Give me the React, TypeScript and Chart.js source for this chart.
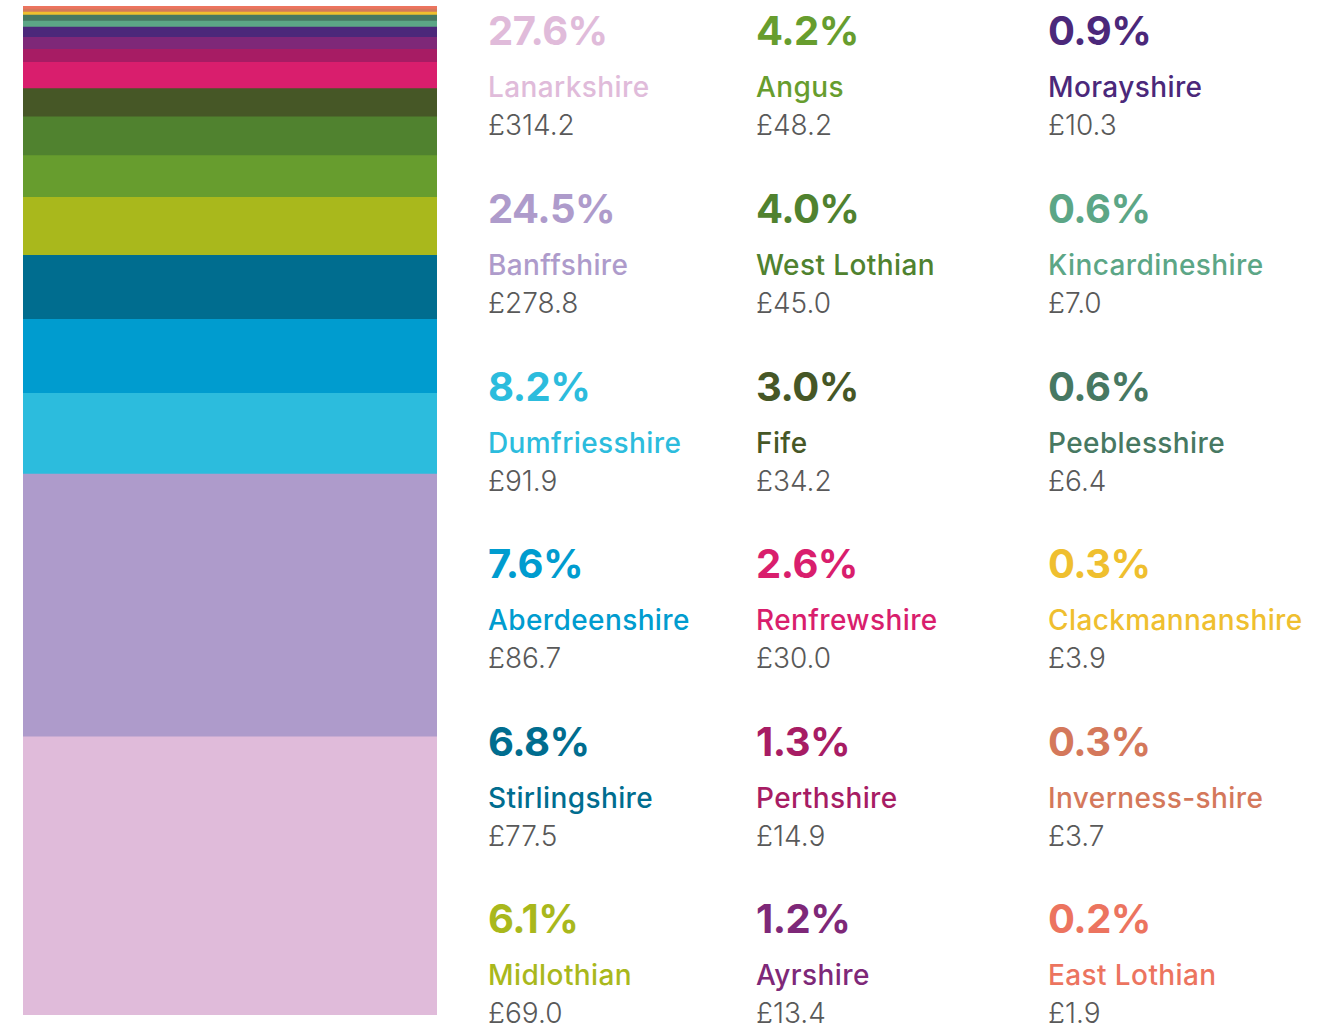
import React, { useEffect, useRef } from "react";
import { Chart, registerables } from "chart.js";

Chart.register(...registerables);

// Data (stack order: bottom to top; legend order: column-major)
const regions = [
  "Lanarkshire", "Banffshire", "Dumfriesshire", "Aberdeenshire", "Stirlingshire", "Midlothian",
  "Angus", "West Lothian", "Fife", "Renfrewshire", "Perthshire", "Ayrshire",
  "Morayshire", "Kincardineshire", "Peeblesshire", "Clackmannanshire", "Inverness-shire", "East Lothian",
];
// Amounts (£) shown in the labels
const amounts = [
  314.2, 278.8, 91.9, 86.7, 77.5, 69.0,
  48.2, 45.0, 34.2, 30.0, 14.9, 13.4,
  10.3, 7.0, 6.4, 3.9, 3.7, 1.9,
];
// Percentage labels as printed
const percentLabels = [
  "27.6%", "24.5%", "8.2%", "7.6%", "6.8%", "6.1%",
  "4.2%", "4.0%", "3.0%", "2.6%", "1.3%", "1.2%",
  "0.9%", "0.6%", "0.6%", "0.3%", "0.3%", "0.2%",
];
// Segment shares (%) as drawn in the stacked bar
const barShares = [
  27.6, 26.1, 8.0, 7.35, 6.35, 5.75,
  4.15, 3.85, 2.8, 2.6, 1.3, 1.2,
  1.0, 0.6, 0.6, 0.3, 0.3, 0.3,
];
const amountLabels = amounts.map((v) => "£" + v.toFixed(1));
const colors = [
  "#e0bbda", "#ae9bcb", "#2cbcdd", "#009ccf", "#006d8f", "#a9b81c",
  "#679d2e", "#50822f", "#465726", "#d91e6d", "#a71c64", "#7e2878",
  "#4b287a", "#5ca686", "#477862", "#efbf2f", "#d4785b", "#ec745f",
];

const FONT = "Inter, 'Open Sans', 'Noto Sans', sans-serif";
const COL_X = [488, 756, 1048];
const ROW_PITCH = 177.6;
const PCT_BASE = 46;

export default function App() {
  const canvasRef = useRef<HTMLCanvasElement | null>(null);

  useEffect(() => {
    if (!canvasRef.current) return;
    const total = barShares.reduce((a, b) => a + b, 0);
    const chart = new Chart(canvasRef.current, {
      type: "bar",
      data: {
        labels: ["Total"],
        datasets: regions.map((r, i) => ({
          label: r,
          data: [barShares[i]],
          backgroundColor: colors[i],
          borderWidth: 0,
          barPercentage: 1,
          categoryPercentage: 1,
          stack: "s",
        })),
      },
      options: {
        animation: false,
        responsive: true,
        maintainAspectRatio: false,
        layout: { padding: 0 },
        plugins: { legend: { display: false }, tooltip: { enabled: false } },
        scales: {
          x: { stacked: true, display: false },
          y: { stacked: true, display: false, min: 0, max: total },
        },
      },
    });
    return () => chart.destroy();
  }, []);

  return (
    <div style={{ position: "absolute", left: 0, top: 0, width: 1340, height: 1030, background: "#fff", fontFamily: FONT }}>
      <div style={{ position: "absolute", left: 23, top: 6, width: 414, height: 1009 }}>
        <canvas ref={canvasRef} />
      </div>
      {regions.map((r, i) => {
        const col = Math.floor(i / 6);
        const row = i % 6;
        const pb = PCT_BASE + ROW_PITCH * row;
        const x = COL_X[col];
        return (
          <React.Fragment key={r}>
            <div style={{ position: "absolute", left: x, top: pb - 0.864 * 40, fontSize: 40, lineHeight: 1, fontWeight: 700, color: colors[i], whiteSpace: "nowrap", letterSpacing: -0.5 }}>
              {percentLabels[i]}
            </div>
            <div style={{ position: "absolute", left: x, top: pb + 51.5 - 0.864 * 28, fontSize: 28, lineHeight: 1, fontWeight: 500, color: colors[i], whiteSpace: "nowrap", letterSpacing: 0.4 }}>
              {r}
            </div>
            <div style={{ position: "absolute", left: x, top: pb + 89.5 - 0.864 * 28, fontSize: 28, lineHeight: 1, fontWeight: 300, color: "#595959", whiteSpace: "nowrap" }}>
              {amountLabels[i]}
            </div>
          </React.Fragment>
        );
      })}
    </div>
  );
}
